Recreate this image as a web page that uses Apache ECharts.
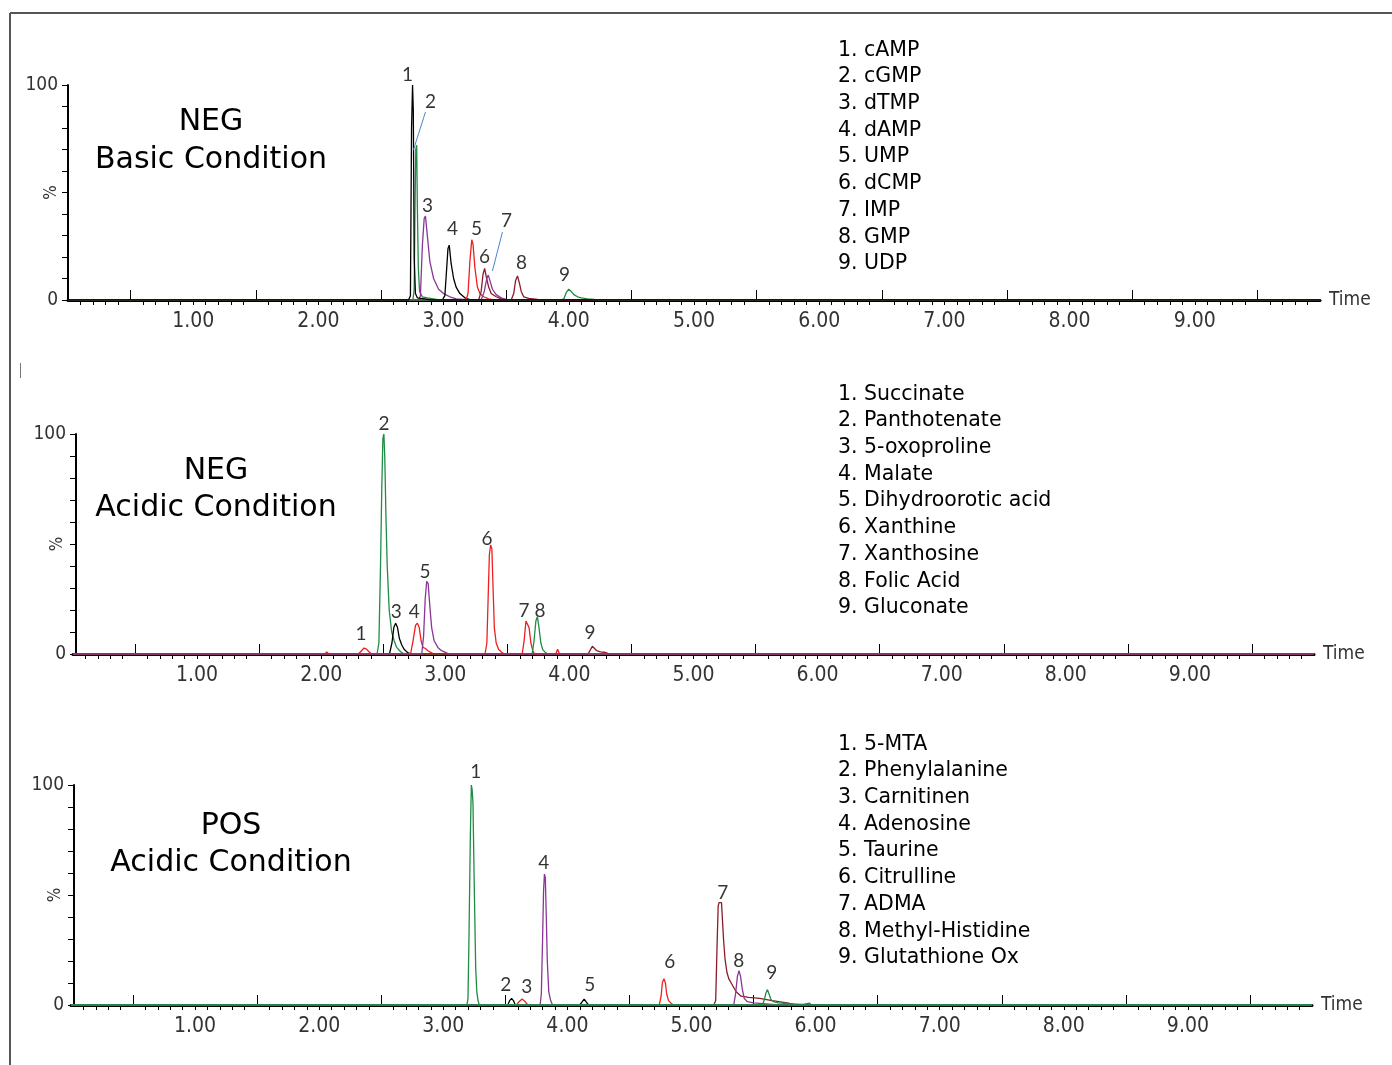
<!DOCTYPE html>
<html>
<head>
<meta charset="utf-8">
<script src="https://cdn.jsdelivr.net/npm/echarts@6/dist/echarts.min.js"></script>
<style>
  html, body { margin: 0; padding: 0; background: #fff; }
  #main { width: 1392px; height: 1065px; }
</style>
</head>
<body>
<div id="main"></div>
<script>
// compound names (legend text of each panel)
var negBasicNames = ['cAMP', 'cGMP', 'dTMP', 'dAMP', 'UMP', 'dCMP', 'IMP', 'GMP', 'UDP'];
var negAcidicNames = ['Succinate', 'Panthotenate', '5-oxoproline', 'Malate', 'Dihydroorotic acid', 'Xanthine', 'Xanthosine', 'Folic Acid', 'Gluconate'];
var posAcidicNames = ['5-MTA', 'Phenylalanine', 'Carnitinen', 'Adenosine', 'Taurine', 'Citrulline', 'ADMA', 'Methyl-Histidine', 'Glutathione Ox'];

// x axis labels (minutes)
var timeLabels = [1, 2, 3, 4, 5, 6, 7, 8, 9];

// ---- NEG, basic condition : [time (min), intensity (%)]
var cAMP = [[0,0],[2.72,0],[2.735,2],[2.744,80],[2.752,100],[2.758,88],[2.765,20],[2.775,3],[2.79,1],[2.85,0.5],[2.9,0],[10,0]];
var cGMP = [[0,0],[2.755,0],[2.765,5],[2.772,45],[2.778,70],[2.785,72],[2.79,45],[2.798,15],[2.808,4],[2.83,1.5],[2.87,1],[2.92,0.5],[2.96,0],[10,0]];
var dTMP = [[0,0],[2.8,0],[2.815,2],[2.83,25],[2.845,38],[2.855,39],[2.87,30],[2.89,18],[2.92,10],[2.96,5],[3.0,3],[3.05,1.5],[3.1,0.5],[3.2,0],[10,0]];
var dAMP = [[0,0],[2.99,0],[3.01,2],[3.025,15],[3.035,24],[3.045,25.5],[3.06,17],[3.08,10],[3.1,6],[3.13,3],[3.17,1],[3.22,0],[10,0]];
var UMP = [[0,0],[3.18,0],[3.195,3],[3.21,18],[3.225,28],[3.235,26],[3.25,15],[3.27,6],[3.29,3],[3.32,1.5],[3.36,0.5],[3.4,0],[10,0]];
var dCMP = [[0,0],[3.28,0],[3.3,4],[3.315,12],[3.328,14.7],[3.34,11],[3.36,6],[3.38,3],[3.42,1.5],[3.46,0.5],[3.5,0],[10,0]];
var IMP = [[0,0],[3.3,0],[3.325,4],[3.345,10],[3.357,11.6],[3.37,9],[3.39,5],[3.42,2.5],[3.46,1],[3.52,0],[10,0]];
var GMP = [[0,0],[3.54,0],[3.56,3],[3.575,9],[3.59,11.2],[3.605,8],[3.62,4],[3.64,1.5],[3.68,0.8],[3.75,0.3],[3.8,0],[10,0]];
var UDP = [[0,0],[3.93,0],[3.96,0.5],[3.98,3.5],[4.0,5],[4.02,4],[4.04,2.5],[4.07,1.5],[4.1,1],[4.15,0.5],[4.2,0.3],[4.22,0],[10,0]];

// ---- NEG, acidic condition
var succinate = [[0,0],[2.03,0],[2.045,1],[2.06,0],[2.3,0],[2.325,1.5],[2.345,2.7],[2.365,2.2],[2.385,1],[2.405,0],[10,0]];
var panthotenate = [[0,0],[2.45,0],[2.465,5],[2.478,40],[2.488,75],[2.497,98],[2.505,100],[2.512,90],[2.522,62],[2.532,40],[2.548,20],[2.568,10],[2.588,6],[2.608,3],[2.64,1],[2.67,0],[10,0]];
var oxoproline = [[0,0],[2.55,0],[2.57,5],[2.585,12],[2.6,14],[2.615,12],[2.63,7],[2.65,4],[2.67,2],[2.7,0.5],[2.73,0],[10,0]];
var malate = [[0,0],[2.72,0],[2.74,6],[2.76,13],[2.775,14],[2.79,12],[2.805,6],[2.82,3],[2.84,2.5],[2.86,1.5],[2.89,0.5],[2.91,0],[10,0]];
var dihydroorotic = [[0,0],[2.81,0],[2.825,8],[2.838,25],[2.85,33],[2.862,32],[2.875,22],[2.89,12],[2.91,6],[2.94,3],[2.97,1.5],[3.01,0.5],[3.03,0],[10,0]];
var xanthine = [[0,0],[3.32,0],[3.335,5],[3.345,25],[3.355,45],[3.365,49.5],[3.375,48],[3.385,30],[3.395,12],[3.41,5],[3.43,2],[3.46,0.5],[3.48,0],[10,0]];
var xanthosine = [[0,0],[3.62,0],[3.635,6],[3.65,15],[3.662,15.8],[3.675,12],[3.69,5],[3.705,1.5],[3.72,0],[3.89,0],[3.905,2.2],[3.92,0],[10,0]];
var folicAcid = [[0,0],[3.7,0],[3.715,6],[3.73,15],[3.742,17],[3.755,12],[3.77,5],[3.785,2],[3.81,0.5],[3.83,0],[10,0]];
var gluconate = [[0,0],[4.15,0],[4.17,2],[4.185,3.5],[4.2,3],[4.22,1.5],[4.25,1],[4.28,0.8],[4.31,0.3],[4.34,0],[10,0]];

// ---- POS, acidic condition
var mta = [[0,0],[3.19,0],[3.199,3],[3.207,31],[3.218,77],[3.226,100],[3.232,98],[3.239,92],[3.25,52],[3.261,17],[3.27,6],[3.28,2],[3.29,0],[10,0]];
var phenylalanine = [[0,0],[3.52,0],[3.535,2],[3.55,3],[3.565,2],[3.58,0],[10,0]];
var carnitine = [[0,0],[3.59,0],[3.61,1.5],[3.635,2.7],[3.66,1.5],[3.68,0],[10,0]];
var adenosine = [[0,0],[3.78,0],[3.79,5],[3.8,30],[3.808,52],[3.815,59.5],[3.822,58],[3.83,40],[3.838,20],[3.85,6],[3.865,2],[3.88,0],[10,0]];
var taurine = [[0,0],[4.1,0],[4.12,1.5],[4.135,2.7],[4.15,1.5],[4.17,0],[10,0]];
var citrulline = [[0,0],[4.74,0],[4.755,4],[4.765,10],[4.778,12],[4.79,10],[4.8,5],[4.815,2],[4.84,0.5],[4.86,0],[10,0]];
var adma = [[0,0],[5.18,0],[5.195,2],[5.205,25],[5.215,45],[5.222,46.5],[5.242,46.5],[5.25,38],[5.258,30],[5.27,21],[5.285,15],[5.3,12],[5.33,9],[5.36,6],[5.4,4],[5.46,3.5],[5.55,3],[5.65,2],[5.77,1],[5.85,0],[10,0]];
var methylHistidine = [[0,0],[5.34,0],[5.355,5],[5.37,13],[5.383,15.6],[5.395,13],[5.41,7],[5.425,3],[5.45,1.5],[5.5,1],[5.6,0.5],[5.7,0],[10,0]];
var glutathione = [[0,0],[5.57,0],[5.585,2],[5.6,5.5],[5.612,7],[5.625,5],[5.64,2.5],[5.66,1.5],[5.7,1],[5.75,0.8],[5.8,0.5],[5.9,0.3],[5.95,0.8],[5.97,0],[10,0]];

// peak number tags [time, %, text] and leader lines
var negBasicTags = [[2.712,104.7,'1'],[2.895,92.1,'2'],[2.871,43.7,'3'],[3.071,33,'4'],[3.263,33,'5'],[3.327,20,'6'],[3.502,36.7,'7'],[3.622,17.2,'8'],[3.965,11.6,'9']];
var negBasicLeaders = [[[2.855,87.4],[2.759,69.8]], [[3.47,31.6],[3.39,13.5]]];
var negAcidicTags = [[2.321,9.1,'1'],[2.507,104.5,'2'],[2.604,19.1,'3'],[2.749,19.1,'4'],[2.837,37.3,'5'],[3.337,52.3,'6'],[3.635,19.5,'7'],[3.764,19.5,'8'],[4.167,9.5,'9']];
var posAcidicTags = [[3.261,105.9,'1'],[3.503,9.1,'2'],[3.672,8.2,'3'],[3.809,64.5,'4'],[4.18,9.1,'5'],[4.825,19.5,'6'],[5.252,50.9,'7'],[5.38,20,'8'],[5.646,14.5,'9']];

var BLACK = '#000000', GREEN = '#1e8c45', PURPLE = '#8a3696', RED = '#f01e1e', MAROON = '#8b1c2a';
var NARROW = '"Liberation Sans Narrow", "DejaVu Sans Condensed", "Liberation Sans", sans-serif';

var panels = [
  { grid: { left: 68, top: 85, width: 1252, height: 215 }, yOffset: 0, pctX: 52,
    title: 'NEG\nBasic Condition', titleX: 211, titleY: 103, titleLH: 38, listY: 37,
    names: negBasicNames,
    traces: [cAMP, cGMP, dTMP, dAMP, UMP, dCMP, IMP, GMP, UDP],
    colors: [BLACK, GREEN, PURPLE, BLACK, RED, MAROON, PURPLE, MAROON, GREEN],
    top: 0, tags: negBasicTags, leaders: negBasicLeaders },
  { grid: { left: 73, top: 434, width: 1241, height: 220 }, yOffset: -3, pctX: 58,
    title: 'NEG\nAcidic Condition', titleX: 216, titleY: 453, titleLH: 37, listY: 381,
    names: negAcidicNames,
    traces: [succinate, panthotenate, oxoproline, malate, dihydroorotic, xanthine, xanthosine, folicAcid, gluconate],
    colors: [RED, GREEN, BLACK, RED, PURPLE, RED, RED, GREEN, MAROON],
    top: 4, tags: negAcidicTags, leaders: [] },
  { grid: { left: 71, top: 785, width: 1241, height: 220 }, yOffset: -3, pctX: 56,
    title: 'POS\nAcidic Condition', titleX: 231, titleY: 808, titleLH: 37, listY: 731,
    names: posAcidicNames,
    traces: [mta, phenylalanine, carnitine, adenosine, taurine, citrulline, adma, methylHistidine, glutathione],
    colors: [GREEN, BLACK, RED, PURPLE, BLACK, RED, MAROON, PURPLE, GREEN],
    top: 0, tags: posAcidicTags, leaders: [] }
];

var minorTicks = [];
for (var k = 1; k < 100; k++) { if (k % 10 !== 5) minorTicks.push(k / 10); }
var halfTicks = [];
for (var h = 0; h < 10; h++) halfTicks.push(h + 0.5);

var option = { animation: false, backgroundColor: '#fff', grid: [], xAxis: [], yAxis: [], series: [], graphic: [] };

panels.forEach(function (p, i) {
  option.grid.push(Object.assign({ containLabel: false, outerBoundsMode: 'none' }, p.grid));

  option.xAxis.push({
    gridIndex: i, type: 'value', min: 0, max: 10,
    axisLine: { onZero: false, lineStyle: { color: '#000', width: 3 } },
    axisTick: { customValues: minorTicks, length: 5, lineStyle: { color: '#000', width: 1 } },
    axisLabel: { customValues: timeLabels, margin: 11, color: '#333', fontFamily: NARROW, fontSize: 21,
      formatter: function (v) { return v.toFixed(2); } },
    splitLine: { show: false },
    name: 'Time', nameLocation: 'end', nameGap: 9,
    nameTextStyle: { color: '#333', fontFamily: NARROW, fontSize: 19, verticalAlign: 'middle' }
  });
  option.xAxis.push({
    gridIndex: i, type: 'value', min: 0, max: 10,
    axisLine: { show: false },
    axisTick: { customValues: halfTicks, length: 10, lineStyle: { color: '#000', width: 1 } },
    axisLabel: { show: false }, splitLine: { show: false }
  });

  option.yAxis.push({
    gridIndex: i, type: 'value', min: 0, max: 100, interval: 10, offset: p.yOffset,
    axisLine: { show: true, onZero: false, lineStyle: { color: '#000', width: 2 } },
    axisTick: { show: true, length: 6, lineStyle: { color: '#000', width: 1 } },
    axisLabel: { margin: 10, color: '#333', fontFamily: NARROW, fontSize: 19,
      formatter: function (v) { return (v === 0 || v === 100) ? String(v) : ''; } },
    splitLine: { show: false }
  });

  p.traces.forEach(function (tr, j) {
    option.series.push({
      type: 'line', name: p.names[j], xAxisIndex: i * 2, yAxisIndex: i,
      data: tr, showSymbol: false, symbol: 'none',
      z: j === p.top ? 4 : 2,
      lineStyle: { color: p.colors[j], width: 1.3 }
    });
  });

  p.leaders.forEach(function (ld) {
    option.series.push({
      type: 'line', xAxisIndex: i * 2, yAxisIndex: i, data: ld, symbol: 'none', clip: false, z: 5,
      lineStyle: { color: '#4a86c8', width: 1 }
    });
  });

  option.series.push({
    type: 'scatter', xAxisIndex: i * 2, yAxisIndex: i, data: p.tags, symbolSize: 0, clip: false, z: 6,
    label: { show: true, position: 'inside', color: '#000', fontFamily: 'Lato, "Open Sans", sans-serif', fontSize: 19,
      formatter: function (q) { return q.value[2]; } }
  });

  // rotated "%" axis caption at the middle of the y axis
  option.graphic.push({
    type: 'text', x: p.pctX, y: p.grid.top + p.grid.height / 2, rotation: Math.PI / 2,
    style: { text: '%', fill: '#333', fontFamily: NARROW, fontSize: 17, align: 'center', verticalAlign: 'middle' }
  });

  option.graphic.push({
    type: 'text', x: p.titleX, y: p.titleY,
    style: { text: p.title, fill: '#000', fontFamily: '"DejaVu Sans", Verdana, sans-serif', fontSize: 30,
      lineHeight: p.titleLH, align: 'center', verticalAlign: 'top' }
  });
  option.graphic.push({
    type: 'text', x: 838, y: p.listY,
    style: { text: p.names.map(function (n, j) { return (j + 1) + '. ' + n; }).join('\n'),
      fill: '#000', fontFamily: '"DejaVu Sans", Verdana, sans-serif', fontSize: 20.5, lineHeight: 26.7,
      align: 'left', verticalAlign: 'top' }
  });
});

// frame lines and stray mark
option.graphic.push({ type: 'line', shape: { x1: 10, y1: 13, x2: 1392, y2: 13 }, style: { stroke: '#555', lineWidth: 2 } });
option.graphic.push({ type: 'line', shape: { x1: 10, y1: 13, x2: 10, y2: 1065 }, style: { stroke: '#555', lineWidth: 2 } });
option.graphic.push({ type: 'line', shape: { x1: 20.5, y1: 363, x2: 20.5, y2: 378 }, style: { stroke: '#777', lineWidth: 1 } });

var myChart = echarts.init(document.getElementById('main'));
myChart.setOption(option);
</script>
</body>
</html>
